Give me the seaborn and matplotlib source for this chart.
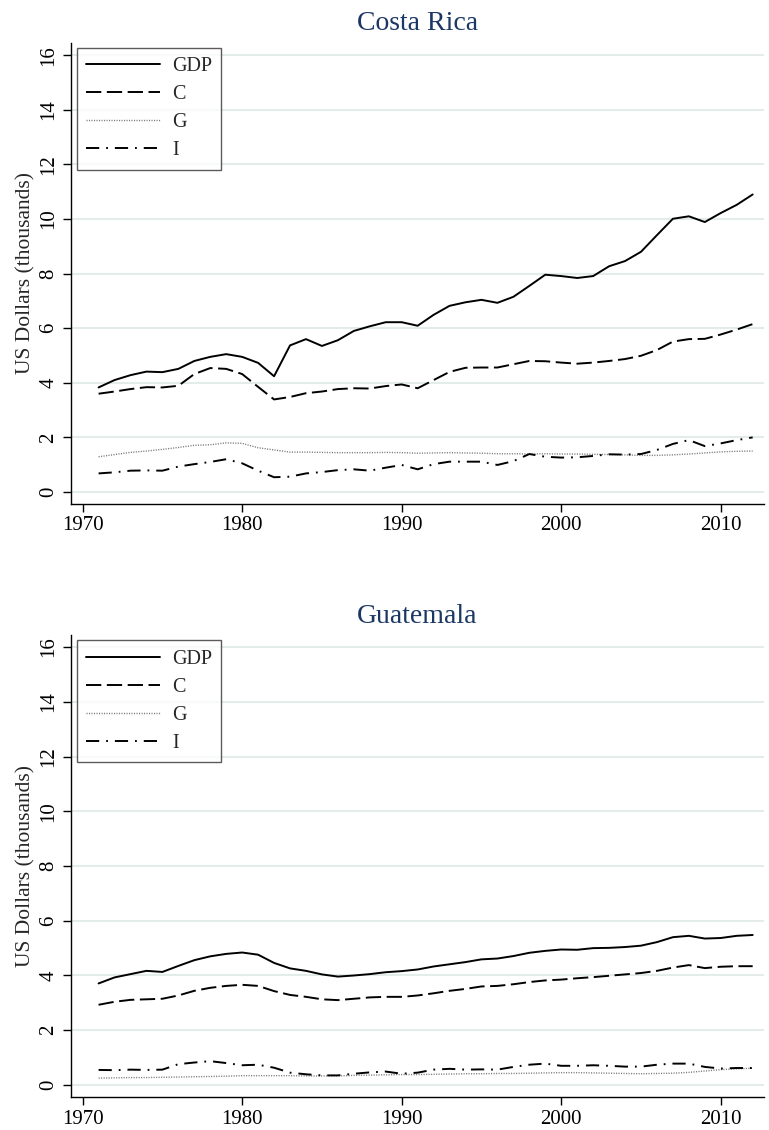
import matplotlib
matplotlib.use("Agg")
import matplotlib.pyplot as plt
import seaborn as sns
import pandas as pd

# Years covered by both panels
years = list(range(1971, 2013))

# Costa Rica, per-capita components (thousands of US dollars)
cr_gdp = [3.83, 4.10, 4.28, 4.41, 4.39, 4.51, 4.80, 4.95, 5.05, 4.95,
          4.73, 4.24, 5.37, 5.60, 5.35, 5.56, 5.90, 6.07, 6.22, 6.22,
          6.09, 6.49, 6.82, 6.95, 7.04, 6.93, 7.15, 7.55, 7.96, 7.91,
          7.84, 7.91, 8.27, 8.46, 8.80, 9.41, 10.01, 10.10, 9.89, 10.22,
          10.52, 10.90]
cr_c = [3.60, 3.68, 3.77, 3.84, 3.83, 3.89, 4.32, 4.54, 4.51, 4.32,
        3.85, 3.39, 3.48, 3.62, 3.68, 3.77, 3.80, 3.79, 3.88, 3.94,
        3.80, 4.10, 4.40, 4.55, 4.56, 4.56, 4.68, 4.80, 4.79, 4.74,
        4.70, 4.74, 4.80, 4.87, 4.99, 5.20, 5.51, 5.60, 5.61, 5.77,
        5.95, 6.15]
cr_g = [1.29, 1.37, 1.45, 1.50, 1.56, 1.63, 1.71, 1.73, 1.80, 1.78,
        1.62, 1.54, 1.46, 1.46, 1.45, 1.44, 1.44, 1.44, 1.45, 1.44,
        1.42, 1.43, 1.44, 1.43, 1.42, 1.40, 1.40, 1.39, 1.40, 1.39,
        1.39, 1.38, 1.37, 1.36, 1.34, 1.34, 1.36, 1.39, 1.43, 1.47,
        1.49, 1.50]
cr_i = [0.68, 0.72, 0.78, 0.79, 0.78, 0.93, 1.02, 1.10, 1.20, 1.05,
        0.78, 0.54, 0.56, 0.68, 0.73, 0.80, 0.83, 0.78, 0.89, 0.99,
        0.83, 1.02, 1.11, 1.11, 1.11, 0.99, 1.13, 1.39, 1.29, 1.26,
        1.27, 1.32, 1.38, 1.37, 1.39, 1.54, 1.76, 1.90, 1.68, 1.78,
        1.90, 2.00]

# Guatemala, per-capita components (thousands of US dollars)
gt_gdp = [3.71, 3.93, 4.05, 4.17, 4.13, 4.35, 4.56, 4.70, 4.79, 4.84,
          4.76, 4.46, 4.26, 4.17, 4.04, 3.96, 4.00, 4.05, 4.12, 4.16,
          4.22, 4.33, 4.41, 4.49, 4.59, 4.62, 4.71, 4.83, 4.90, 4.95,
          4.94, 5.00, 5.01, 5.04, 5.09, 5.22, 5.40, 5.45, 5.35, 5.37,
          5.45, 5.48]
gt_c = [2.93, 3.04, 3.11, 3.13, 3.15, 3.27, 3.44, 3.55, 3.62, 3.66,
        3.62, 3.43, 3.29, 3.22, 3.13, 3.10, 3.15, 3.20, 3.22, 3.22,
        3.27, 3.35, 3.44, 3.51, 3.60, 3.62, 3.68, 3.76, 3.82, 3.85,
        3.90, 3.94, 3.99, 4.04, 4.09, 4.17, 4.29, 4.38, 4.27, 4.32,
        4.34, 4.34]
gt_g = [0.25, 0.26, 0.27, 0.27, 0.28, 0.29, 0.30, 0.31, 0.32, 0.34,
        0.34, 0.34, 0.34, 0.33, 0.33, 0.33, 0.35, 0.36, 0.37, 0.38,
        0.38, 0.39, 0.40, 0.41, 0.41, 0.42, 0.42, 0.43, 0.44, 0.45,
        0.45, 0.44, 0.43, 0.42, 0.41, 0.42, 0.43, 0.46, 0.51, 0.56,
        0.59, 0.61]
gt_i = [0.55, 0.54, 0.56, 0.55, 0.56, 0.76, 0.82, 0.87, 0.80, 0.72,
        0.74, 0.63, 0.45, 0.39, 0.35, 0.35, 0.41, 0.46, 0.49, 0.41,
        0.45, 0.56, 0.59, 0.56, 0.57, 0.56, 0.66, 0.74, 0.78, 0.70,
        0.70, 0.72, 0.70, 0.67, 0.67, 0.74, 0.78, 0.78, 0.66, 0.60,
        0.62, 0.62]

series_names = ["GDP", "C", "G", "I"]
y_ticks = [0, 2, 4, 6, 8, 10, 12, 14, 16]
x_ticks = [1970, 1980, 1990, 2000, 2010]

sns.set_theme(style="white")
plt.rcParams["font.family"] = ["Liberation Serif", "DejaVu Serif"]
plt.rcParams["lines.scale_dashes"] = False

styles = {
    "GDP": dict(color="black", lw=1.4, ls="-"),
    "C":   dict(color="black", lw=1.4, ls=(0, (11.0, 4.0))),
    "G":   dict(color="#7a7a7a", lw=1.0, ls=(0, (0.8, 1.0))),
    "I":   dict(color="black", lw=1.4, ls=(0, (9.5, 5.0, 1.3, 5.0))),
}

fig = plt.figure(figsize=(7.69, 11.30), dpi=100)
ax_cr = fig.add_axes([0.0919, 0.5540, 0.9016, 0.4082])
ax_gt = fig.add_axes([0.0919, 0.0292, 0.9016, 0.4088])

panels = [
    (ax_cr, "Costa Rica", [cr_gdp, cr_c, cr_g, cr_i], (-0.44, 16.46)),
    (ax_gt, "Guatemala", [gt_gdp, gt_c, gt_g, gt_i], (-0.44, 16.44)),
]

for ax, title, values, ylim in panels:
    df = pd.DataFrame({"year": years})
    for name, vals in zip(series_names, values):
        df[name] = vals
    for name in series_names:
        st = styles[name]
        sns.lineplot(data=df, x="year", y=name, ax=ax, label=name,
                     color=st["color"], linewidth=st["lw"])
        ax.lines[-1].set_linestyle(st["ls"])

    ax.set_xlim(1969.25, 2012.71)
    ax.set_ylim(*ylim)
    ax.set_xticks(x_ticks)
    ax.set_yticks(y_ticks)
    ax.set_xticklabels([str(t) for t in x_ticks], fontsize=15)
    ax.set_yticklabels([str(t) for t in y_ticks], fontsize=15,
                       rotation=90, va="center")
    ax.set_xlabel("")
    ax.set_ylabel("US Dollars (thousands)", fontsize=15.5, labelpad=3)
    ax.set_title(title, fontsize=20, color="#1c3764", pad=9)

    ax.grid(axis="y", color="#e3ecea", linewidth=1.5)
    ax.grid(axis="x", visible=False)
    ax.set_axisbelow(True)
    for side in ("top", "right"):
        ax.spines[side].set_visible(False)
    for side in ("left", "bottom"):
        ax.spines[side].set_color("black")
        ax.spines[side].set_linewidth(1.0)
    ax.tick_params(axis="both", which="major", direction="out",
                   length=6, width=1.0, color="black", pad=3,
                   left=True, bottom=True, labelcolor="black")

    leg = ax.legend(loc="upper left", fontsize=14.5, frameon=True,
                    fancybox=False, handlelength=3.67, handletextpad=0.6,
                    borderpad=0.46, labelspacing=0.44, borderaxespad=0.0,
                    bbox_to_anchor=(0.009, 0.9885))
    leg.get_frame().set_edgecolor("#333333")
    leg.get_frame().set_linewidth(1.0)
    for h, name in zip(leg.get_lines(), series_names):
        h.set_linestyle(styles[name]["ls"])
        h.set_linewidth(styles[name]["lw"])

fig.savefig("out.png", dpi=100)
